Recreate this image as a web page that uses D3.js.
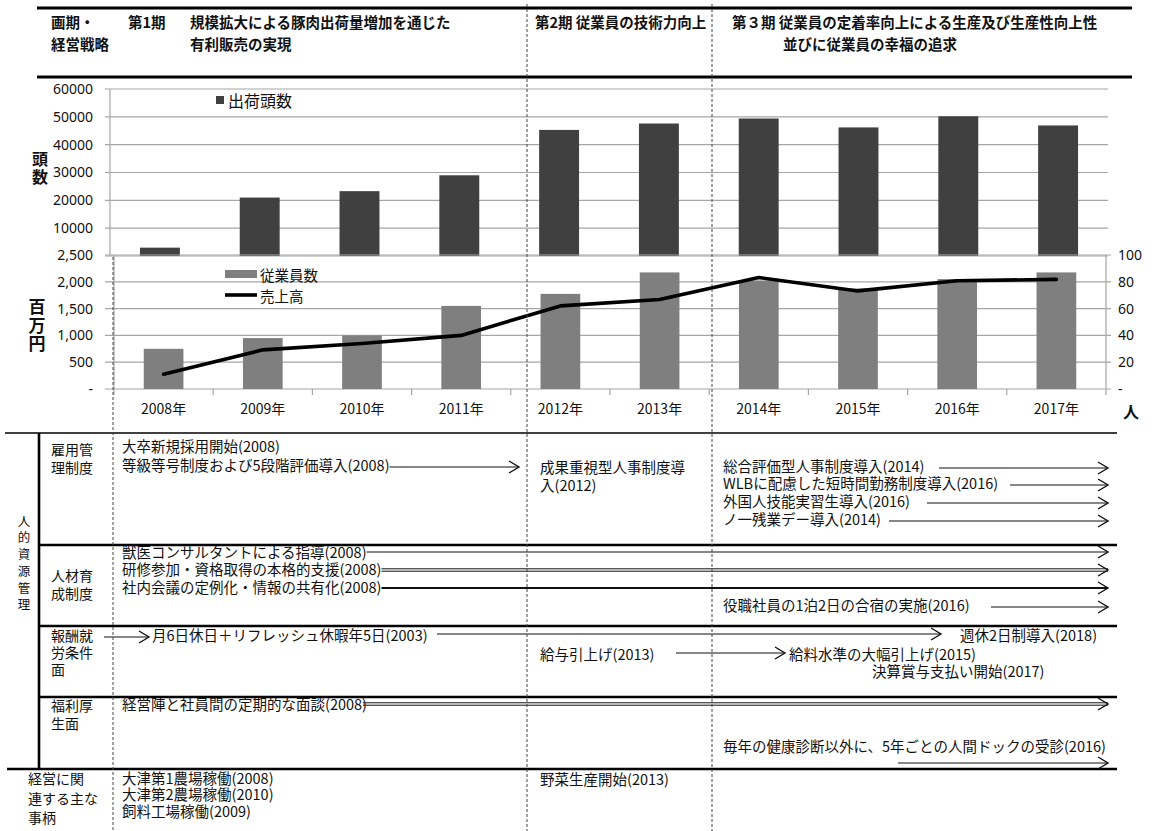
<!DOCTYPE html>
<html lang="ja">
<head>
<meta charset="utf-8">
<script src="https://cdn.jsdelivr.net/npm/d3@7"></script>
<style>
  body { margin: 0; background: #fff; }
  svg { display: block; }
  .jp { font-family: "Noto Sans CJK JP", "Noto Sans", sans-serif; }
  .num { font-family: "Noto Sans", "DejaVu Sans", sans-serif; }
</style>
</head>
<body>
<svg id="chart" width="1152" height="831"></svg>
<script>
// ---- data ----
const years = ["2008年", "2009年", "2010年", "2011年", "2012年", "2013年", "2014年", "2015年", "2016年", "2017年"];
const shipments = [3000, 21000, 23300, 29000, 45300, 47600, 49400, 46200, 50200, 46900]; // 出荷頭数 (頭)
const employees = [30, 38, 40, 62, 71, 87, 81, 75, 82, 87];                              // 従業員数 (人)
const sales = [275, 730, 850, 1000, 1550, 1670, 2080, 1830, 2020, 2045];                  // 売上高 (百万円)
const shipTicks = [10000, 20000, 30000, 40000, 50000, 60000];
const salesTicks = [0, 500, 1000, 1500, 2000, 2500];
const staffTicks = [0, 20, 40, 60, 80, 100];

const strategyHead = ["画期・", "経営戦略"];
const period1 = ["第1期", "規模拡大による豚肉出荷量増加を通じた", "有利販売の実現"];
const period2 = ["第2期", "従業員の技術力向上"];
const period3 = ["第３期", "従業員の定着率向上による生産及び生産性向上性", "並びに従業員の幸福の追求"];

const hrmLabel = "人的資源管理";
const rowHire = ["雇用管", "理制度"];
const rowTrain = ["人材育", "成制度"];
const rowPay = ["報酬就", "労条件", "面"];
const rowWelfare = ["福利厚", "生面"];
const rowBiz = ["経営に関", "連する主な", "事柄"];

const hireEarly = ["大卒新規採用開始(2008)", "等級等号制度および5段階評価導入(2008)"];
const hireMid = ["成果重視型人事制度導", "入(2012)"];
const hireLate = ["総合評価型人事制度導入(2014)", "WLBに配慮した短時間勤務制度導入(2016)",
                  "外国人技能実習生導入(2016)", "ノ一残業デー導入(2014)"];
const trainEarly = ["獣医コンサルタントによる指導(2008)", "研修参加・資格取得の本格的支援(2008)",
                    "社内会議の定例化・情報の共有化(2008)"];
const trainLate = ["役職社員の1泊2日の合宿の実施(2016)"];
const payItems = ["月6日休日＋リフレッシュ休暇年5日(2003)", "週休2日制導入(2018)",
                  "給与引上げ(2013)", "給料水準の大幅引上げ(2015)", "決算賞与支払い開始(2017)"];
const welfareItems = ["経営陣と社員間の定期的な面談(2008)", "毎年の健康診断以外に、5年ごとの人間ドックの受診(2016)"];
const bizEarly = ["大津第1農場稼働(2008)", "大津第2農場稼働(2010)", "飼料工場稼働(2009)"];
const bizMid = ["野菜生産開始(2013)"];

// ---- drawing ----
const svg = d3.select("#chart");
const GRID = "#a6a6a6";
const FS = 14.5;

function txt(g, s, x, y, opt = {}) {
  return g.append("text")
    .attr("class", opt.cls || "jp")
    .attr("x", x).attr("y", y)
    .attr("dominant-baseline", "central")
    .attr("text-anchor", opt.anchor || "start")
    .attr("font-size", opt.size || FS)
    .attr("font-weight", opt.bold ? "bold" : "normal")
    .attr("fill", opt.fill || "#111")
    .text(s);
}
// a multi-line cell: one <text>, one <tspan> per line; returns the line end x positions
function block(g, lines, x, y0, dy, opt = {}) {
  const t = g.append("text")
    .attr("class", "jp")
    .attr("font-size", opt.size || FS)
    .attr("font-weight", opt.bold ? "bold" : "normal")
    .attr("fill", "#111");
  const spans = lines.map((s, i) => t.append("tspan")
    .attr("x", Array.isArray(x) ? x[i] : x)
    .attr("y", y0 + i * dy)
    .attr("dominant-baseline", "central")
    .text(s));
  return spans.map(sp => +sp.attr("x") + sp.node().getComputedTextLength());
}
// vertical (top-to-bottom) label; x is the column centre, y the centre of the first glyph
function vtxt(g, s, x, y, size, pitch, bold) {
  return g.append("text")
    .attr("class", "jp")
    .attr("x", x).attr("y", y - size / 2)
    .attr("writing-mode", "vertical-rl")
    .attr("font-size", size)
    .attr("letter-spacing", pitch - size)
    .attr("font-weight", bold ? "bold" : "normal")
    .attr("fill", "#111")
    .text(s);
}
function arrow(g, x1, x2, y, w = 1.2, double = false) {
  const shaft = double ? [y - 1.2, y + 1.2] : [y];
  shaft.forEach(yy => g.append("line").attr("x1", x1).attr("x2", x2).attr("y1", yy).attr("y2", yy)
    .attr("stroke", "#111").attr("stroke-width", double ? 1 : w));
  g.append("path").attr("d", `M${x2 - 10},${y - 6}L${x2},${y}L${x2 - 10},${y + 6}`)
    .attr("fill", "none").attr("stroke", "#111").attr("stroke-width", 1.4);
}
function endOf(t) { return +t.attr("x") + t.node().getComputedTextLength(); }

// header band
const head = svg.append("g");
head.append("line").attr("x1", 37).attr("x2", 1132).attr("y1", 8).attr("y2", 8).attr("stroke", "#000").attr("stroke-width", 3);
head.append("line").attr("x1", 37).attr("x2", 1132).attr("y1", 77).attr("y2", 77).attr("stroke", "#000").attr("stroke-width", 3);
block(head, strategyHead, 51, 21, 22, { bold: true });
txt(head, period1[0], 128, 21, { bold: true });
block(head, period1.slice(1), 190, 21, 22, { bold: true });
txt(head, period2.join(" "), 535, 21, { bold: true });
block(head, [period3[0] + " " + period3[1], period3[2]], [732, 783], 21, 22, { bold: true });

// ---- upper chart: 出荷頭数 ----
const upper = svg.append("g");
const xTop = d3.scaleBand().domain(years).range([110, 1108]).paddingInner(0.6).paddingOuter(0.3);
const yTop = d3.scaleLinear().domain([0, 60000]).range([256, 89]);

upper.selectAll("line.grid").data([0, ...shipTicks]).join("line")
  .attr("x1", 105).attr("x2", 1108)
  .attr("y1", d => yTop(d)).attr("y2", d => yTop(d))
  .attr("stroke", GRID).attr("stroke-width", 1.2);
upper.append("line").attr("x1", 110).attr("x2", 110).attr("y1", yTop(60000)).attr("y2", yTop(0))
  .attr("stroke", GRID).attr("stroke-width", 1.2);
upper.selectAll("rect").data(shipments).join("rect")
  .attr("x", (d, i) => xTop(years[i])).attr("width", xTop.bandwidth())
  .attr("y", d => yTop(d)).attr("height", d => yTop(0) - yTop(d))
  .attr("fill", "#404040");
const topAxis = upper.append("g").attr("transform", "translate(110,0)")
  .call(d3.axisLeft(yTop).tickValues(shipTicks).tickFormat(d3.format("d")).tickSize(0).tickPadding(17));
topAxis.select(".domain").remove();
topAxis.selectAll("text").attr("class", "num").attr("font-size", 14).attr("fill", "#111");

upper.append("rect").attr("x", 216).attr("y", 96).attr("width", 8).attr("height", 8).attr("fill", "#404040");
txt(upper, "出荷頭数", 228, 100, { size: 16 });
vtxt(upper, "頭数", 40, 159, 16, 18, true);

// ---- lower chart: 従業員数 & 売上高 ----
const lower = svg.append("g");
const xBot = d3.scaleBand().domain(years).range([114, 1106]).paddingInner(0.6).paddingOuter(0.3);
const yL = d3.scaleLinear().domain([0, 2500]).range([389, 255]);
const yR = d3.scaleLinear().domain([0, 100]).range([389, 255]);

lower.selectAll("line.grid").data(salesTicks).join("line")
  .attr("x1", 105).attr("x2", 1111)
  .attr("y1", d => yL(d)).attr("y2", d => yL(d))
  .attr("stroke", GRID).attr("stroke-width", 1.2);
lower.append("line").attr("x1", 114).attr("x2", 114).attr("y1", 255).attr("y2", 395).attr("stroke", GRID).attr("stroke-width", 1.2);
lower.append("line").attr("x1", 1106).attr("x2", 1106).attr("y1", 255).attr("y2", 395).attr("stroke", GRID).attr("stroke-width", 1.2);
// category boundary ticks on the x axis
const bounds = d3.range(1, years.length).map(i => xBot(years[i]) - xBot.step() * xBot.paddingInner() / 2);
lower.selectAll("line.xt").data(bounds).join("line")
  .attr("x1", d => d).attr("x2", d => d).attr("y1", 389).attr("y2", 395)
  .attr("stroke", GRID).attr("stroke-width", 1.2);

lower.selectAll("rect").data(employees).join("rect")
  .attr("x", (d, i) => xBot(years[i])).attr("width", xBot.bandwidth())
  .attr("y", d => yR(d)).attr("height", d => yR(0) - yR(d))
  .attr("fill", "#7f7f7f");

const salesLine = d3.line().x((d, i) => xBot(years[i]) + xBot.bandwidth() / 2).y(d => yL(d));
lower.append("path").datum(sales).attr("d", salesLine)
  .attr("fill", "none").attr("stroke", "#000").attr("stroke-width", 3.6)
  .attr("stroke-linejoin", "round").attr("stroke-linecap", "round");

const lAxis = lower.append("g").attr("transform", "translate(114,0)")
  .call(d3.axisLeft(yL).tickValues(salesTicks).tickFormat(d => d === 0 ? "-" : d3.format(",")(d)).tickSize(0).tickPadding(21));
lAxis.select(".domain").remove();
lAxis.selectAll("text").attr("class", "num").attr("font-size", 14).attr("fill", "#111");
const rAxis = lower.append("g").attr("transform", "translate(1106,0)")
  .call(d3.axisRight(yR).tickValues(staffTicks).tickFormat(d => d === 0 ? "-" : d).tickSize(0).tickPadding(12));
rAxis.select(".domain").remove();
rAxis.selectAll("text").attr("class", "num").attr("font-size", 14).attr("fill", "#111");
const xAxis = lower.append("g").attr("transform", "translate(0,389)")
  .call(d3.axisBottom(xBot).tickSize(0).tickPadding(15));
xAxis.select(".domain").remove();
xAxis.selectAll("text").attr("class", "jp").attr("font-size", 14).attr("fill", "#111");

lower.append("rect").attr("x", 225).attr("y", 270).attr("width", 32).attr("height", 8).attr("fill", "#7f7f7f");
lower.append("line").attr("x1", 225).attr("x2", 257).attr("y1", 295).attr("y2", 295).attr("stroke", "#000").attr("stroke-width", 3.6);
block(lower, ["従業員数", "売上高"], 260, 274, 21);
vtxt(lower, "百万円", 37, 307, 17, 18.5, true);
txt(lower, "人", 1131, 411, { bold: true, size: 16, anchor: "middle" });

// ---- table ----
const tb = svg.append("g");
const hl = (x1, x2, y, w) => tb.append("line").attr("x1", x1).attr("x2", x2).attr("y1", y).attr("y2", y).attr("stroke", "#000").attr("stroke-width", w);
hl(5, 1117, 433, 1.6);
hl(39, 1117, 545, 2.6);
hl(39, 1117, 626, 2.6);
hl(39, 1117, 697, 2.6);
hl(7, 1117, 769, 2.6);
tb.append("line").attr("x1", 39).attr("x2", 39).attr("y1", 433).attr("y2", 770).attr("stroke", "#000").attr("stroke-width", 2.6);

vtxt(tb, hrmLabel, 24, 521, 12.5, 16.7, false);
block(tb, rowHire, 51, 449, 17.5, { size: 14 });
block(tb, rowTrain, 51, 575, 18, { size: 14 });
block(tb, rowPay, 51, 635, 17, { size: 14 });
block(tb, rowWelfare, 51, 705, 18, { size: 14 });
block(tb, rowBiz, 28, 778, 19.5, { size: 14 });

const C1 = 122, C2 = 540, C3 = 723, XE = 1108;
const after = (end, x, gap = 6) => Math.max(x, end + gap);
let ends;
// 雇用管理制度
ends = block(tb, hireEarly, C1, 445, 19);
arrow(tb, ends[1], 519, 467);
block(tb, hireMid, C2, 466, 18);
ends = block(tb, hireLate, C3, 465, 17.7);
[[939, 468], [1010, 485], [927, 503], [889, 521]].forEach(([x0, y], i) => arrow(tb, after(ends[i], x0), XE, y));
// 人材育成制度
ends = block(tb, trainEarly, C1, 551, 17.5);
arrow(tb, ends[0], XE, 552);
arrow(tb, ends[1], XE, 570, 1, true);
arrow(tb, ends[2], XE, 588, 2);
ends = block(tb, trainLate, C3, 604, 17);
arrow(tb, after(ends[0], 991), XE, 607);
// 報酬就労条件面
arrow(tb, 104, 149, 637);
let t = txt(tb, payItems[0], 152, 634); arrow(tb, after(endOf(t), 437), 941, 634);
txt(tb, payItems[1], 960, 634);
t = txt(tb, payItems[2], C2, 653); arrow(tb, after(endOf(t), 676, 10), 785, 653);
block(tb, [payItems[3], payItems[4]], [789, 872], 653, 17);
// 福利厚生面
t = txt(tb, welfareItems[0], C1, 703); arrow(tb, endOf(t) - 4, XE, 704, 1, true);
txt(tb, welfareItems[1], C3, 745);
arrow(tb, 898, XE, 763);
// 経営に関連する主な事柄
block(tb, bizEarly, C1, 777, 16.5);
block(tb, bizMid, C2, 778, 17);

// period dividers
const dv = svg.append("g");
[[113, 257], [527, 4], [712, 4]].forEach(([x, y0]) =>
  dv.append("line").attr("x1", x).attr("x2", x).attr("y1", y0).attr("y2", 831)
    .attr("stroke", "#444").attr("stroke-width", 1).attr("stroke-dasharray", "3,2"));
</script>
</body>
</html>
